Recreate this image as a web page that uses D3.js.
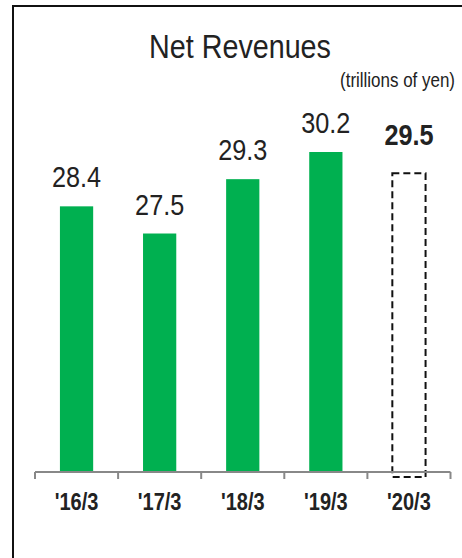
<!DOCTYPE html>
<html>
<head>
<meta charset="utf-8">
<script src="https://cdn.jsdelivr.net/npm/d3@7"></script>
<style>
  html, body { margin: 0; padding: 0; background: #fff; }
  svg { display: block; }
  text { font-family: "Liberation Sans Narrow", "Arial Narrow", "Liberation Sans", Arial, sans-serif; }
</style>
</head>
<body>
<svg id="chart" width="462" height="558"></svg>
<script>
const categories = ["'16/3", "'17/3", "'18/3", "'19/3", "'20/3"];
const values = [28.4, 27.5, 29.3, 30.2, 29.5];
const forecast = [false, false, false, false, true];
const valueLabels = ["28.4", "27.5", "29.3", "30.2", "29.5"];
const titleText = "Net Revenues";
const unitText = "(trillions of yen)";

const SX = 0.87; // condense horizontally to mimic a narrow face
const svg = d3.select("#chart");
const place = (px, py) => `translate(${px},${py}) scale(${SX},1)`;

// frame (left + top lines)
svg.append("line").attr("x1", 13).attr("x2", 13).attr("y1", 5).attr("y2", 558)
  .attr("stroke", "#111").attr("stroke-width", 2);
svg.append("line").attr("x1", 12).attr("x2", 462).attr("y1", 6).attr("y2", 6)
  .attr("stroke", "#111").attr("stroke-width", 2);

// title
svg.append("text").attr("transform", place(240, 58)).attr("text-anchor", "middle")
  .attr("font-size", 33).attr("fill", "#222").text(titleText);
svg.append("text").attr("transform", place(455, 87)).attr("text-anchor", "end")
  .attr("font-size", 19.5).attr("fill", "#222").text(unitText);

const baseY = 472;
const x = d3.scaleBand().domain(categories).range([35, 450.5]).padding(0);
const y = d3.scaleLinear().domain([19.6, 30.2]).range([baseY, 152]);
const barW = x.bandwidth() * 0.4;

const data = categories.map((c, i) => ({c, v: values[i], f: forecast[i], l: valueLabels[i]}));

// solid bars
svg.selectAll("rect.bar").data(data.filter(d => !d.f)).join("rect")
  .attr("class", "bar")
  .attr("x", d => x(d.c) + (x.bandwidth() - barW) / 2)
  .attr("width", barW)
  .attr("y", d => y(d.v))
  .attr("height", d => baseY - y(d.v))
  .attr("fill", "#00b050");

// forecast dashed bar
svg.selectAll("rect.fc").data(data.filter(d => d.f)).join("rect")
  .attr("class", "fc")
  .attr("x", d => x(d.c) + (x.bandwidth() - barW) / 2)
  .attr("width", barW)
  .attr("y", d => y(d.v))
  .attr("height", d => baseY + 5 - y(d.v))
  .attr("fill", "none")
  .attr("stroke", "#111")
  .attr("stroke-width", 2)
  .attr("stroke-dasharray", "7,4");

// axis
const axisG = svg.append("g").attr("transform", `translate(0,${baseY})`);
axisG.append("line").attr("x1", 35).attr("x2", 450.5).attr("y1", 0).attr("y2", 0)
  .attr("stroke", "#888").attr("stroke-width", 2);
const edges = categories.map(c => x(c)).concat([x.range()[1]]);
axisG.selectAll("line.tick").data(edges).join("line")
  .attr("class", "tick")
  .attr("x1", d => d).attr("x2", d => d).attr("y1", 0).attr("y2", 7)
  .attr("stroke", "#888").attr("stroke-width", 2);

// category labels
svg.selectAll("text.cat").data(data).join("text")
  .attr("class", "cat")
  .attr("transform", d => place(x(d.c) + x.bandwidth() / 2, 510))
  .attr("text-anchor", "middle")
  .attr("font-size", 23)
  .attr("font-weight", "bold")
  .attr("fill", "#222")
  .text(d => d.c);

// value labels
svg.selectAll("text.val").data(data).join("text")
  .attr("class", "val")
  .attr("transform", d => place(x(d.c) + x.bandwidth() / 2, y(d.v) - (d.f ? 28 : 19)))
  .attr("text-anchor", "middle")
  .attr("font-size", 29)
  .attr("font-weight", d => d.f ? "bold" : "normal")
  .attr("fill", "#222")
  .text(d => d.l);
</script>
</body>
</html>
